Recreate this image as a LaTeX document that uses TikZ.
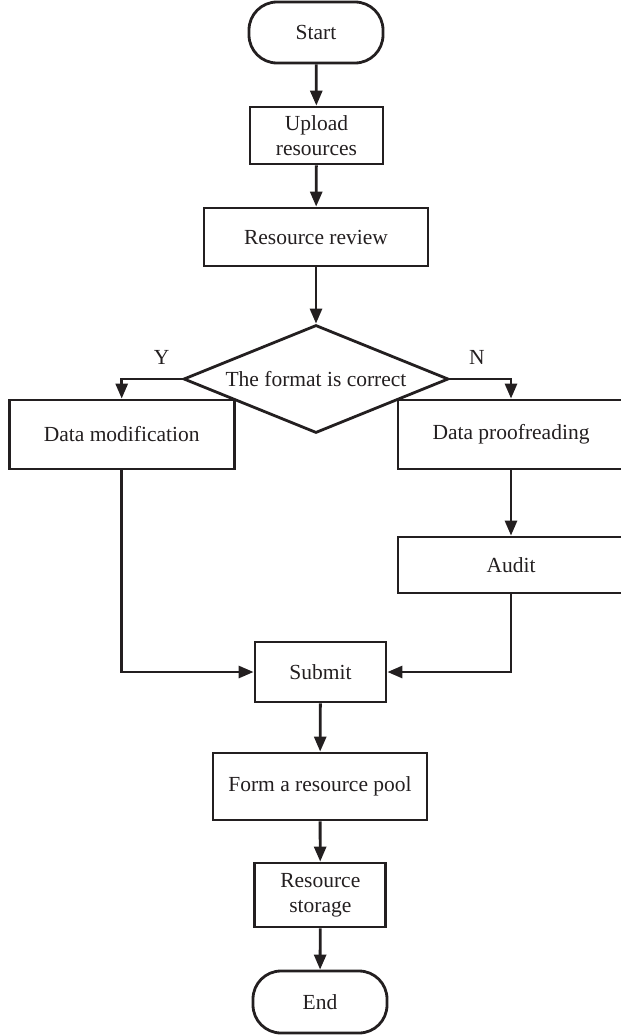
\documentclass[tikz,border=0pt]{standalone}
\usepackage{fontspec}
\setmainfont{Liberation Serif}
\usetikzlibrary{arrows.meta,shapes.geometric}
\definecolor{ink}{HTML}{231F20}
\tikzset{
  every node/.style={font=\fontsize{21.5}{25}\selectfont, text=ink},
  box/.style={draw=ink, line width=2.8pt, rectangle, inner sep=0pt, align=center},
  term/.style={draw=ink, line width=2.8pt, rectangle, rounded corners=28pt, inner sep=0pt},
  dec/.style={draw=ink, line width=2.8pt, diamond, aspect=2.46, inner sep=0pt, minimum width=265pt, minimum height=108pt},
  arr/.style={draw=ink, line width=2.8pt, -{Triangle[length=15pt,width=12pt]}},
  lbl/.style={inner sep=0pt}
}
\begin{document}
\begin{tikzpicture}[x=1pt,y=-1pt]
\useasboundingbox (0,0) rectangle (621,1036);
\node[term, minimum width=134pt, minimum height=61pt] (start) at (316,32.5) {Start};
\node[box, minimum width=133pt, minimum height=57pt] (upload) at (316.5,135.5) {Upload\\resources};
\node[box, minimum width=224pt, minimum height=58pt] (review) at (316,237) {Resource review};
\node[dec] (dia) at (316,379) {The format is correct};
\node[lbl] (ylab) at (161.6,357) {Y};
\node[lbl] (nlab) at (477,357) {N};
\node[box, minimum width=225pt, minimum height=69pt] (mod) at (121.7,434.5) {Data modification};
\node[box, minimum width=226pt, minimum height=69pt] (proof) at (511,434.5) {Data proofreading};
\node[box, minimum width=226pt, minimum height=56pt] (audit) at (511,565) {Audit};
\node[box, minimum width=131pt, minimum height=60pt] (submit) at (320.5,672) {Submit};
\node[box, minimum width=214pt, minimum height=67pt] (pool) at (320,786.5) {Form a resource pool};
\node[box, minimum width=131pt, minimum height=64pt] (storage) at (320.3,895) {Resource\\storage};
\node[term, minimum width=134pt, minimum height=62pt] (end) at (320,1002) {End};

\draw[arr] (start) -- (upload);
\draw[arr] (upload) -- (review);
\draw[arr] (review) -- (dia);
\draw[arr] (dia.west) -| (mod.north);
\draw[arr] (dia.east) -| (proof.north);
\draw[arr] (proof) -- (audit);
\draw[arr] (mod.south) |- (submit.west);
\draw[arr] (audit.south) |- (submit.east);
\draw[arr] (submit) -- (pool);
\draw[arr] (pool) -- (storage);
\draw[arr] (storage) -- (end);
\end{tikzpicture}
\end{document}
